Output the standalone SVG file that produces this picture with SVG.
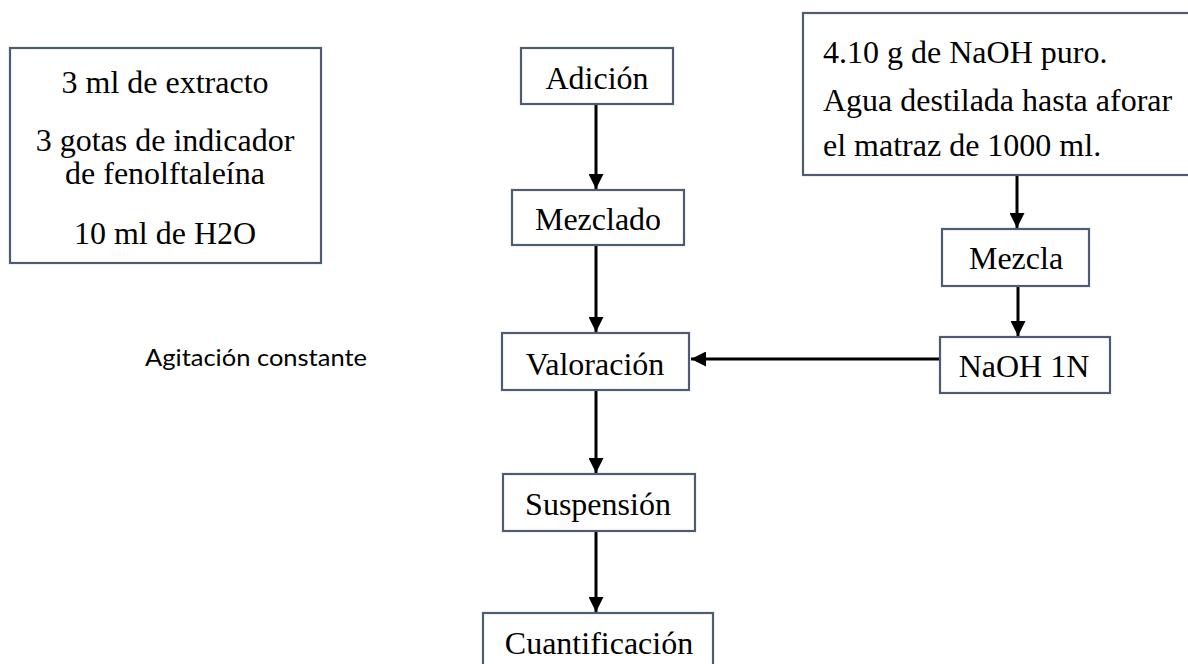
<svg xmlns="http://www.w3.org/2000/svg" width="1188" height="664" viewBox="0 0 1188 664">
<style>
.box{fill:#fff;stroke:#4d5b73;stroke-width:2.2}
.t{font-family:"Liberation Serif","Times New Roman",serif;font-size:32px;fill:#000}
.c{text-anchor:middle}
.edge{stroke:#000;stroke-width:3;fill:none}
</style>
<defs>
<marker id="ah" viewBox="0 0 10 10" refX="10" refY="5" markerWidth="5" markerHeight="5" markerUnits="strokeWidth" orient="auto">
<path d="M0,0 L10,5 L0,10 z" fill="#000"/>
</marker>
</defs>
<rect width="1188" height="664" fill="#fff"/>
<g id="connectors">
<line class="edge" x1="596" y1="104" x2="596" y2="189" marker-end="url(#ah)"/>
<line class="edge" x1="596" y1="245" x2="596" y2="332" marker-end="url(#ah)"/>
<line class="edge" x1="596" y1="391" x2="596" y2="473" marker-end="url(#ah)"/>
<line class="edge" x1="596" y1="532" x2="596" y2="612" marker-end="url(#ah)"/>
<line class="edge" x1="1017" y1="176" x2="1017" y2="228" marker-end="url(#ah)"/>
<line class="edge" x1="1018" y1="287" x2="1018" y2="336" marker-end="url(#ah)"/>
<line class="edge" x1="939" y1="359" x2="691" y2="359" marker-end="url(#ah)"/>
</g>
<g id="ingredients">
<rect class="box" x="10" y="48" width="311" height="215"/>
<text class="t c" x="165" y="93">3 ml de extracto</text>
<text class="t c" x="165" y="151">3 gotas de indicador</text>
<text class="t c" x="165" y="184">de fenolftaleína</text>
<text class="t c" x="165" y="244">10 ml de H2O</text>
</g>
<g id="agitacion">
<text x="145" y="366" font-family="Lato,'Open Sans','Liberation Sans',sans-serif" font-size="24" textLength="222" lengthAdjust="spacingAndGlyphs" fill="#000">Agitación constante</text>
</g>
<g id="adicion">
<rect class="box" x="521" y="48" width="152" height="56"/>
<text class="t c" x="597" y="89">Adición</text>
</g>
<g id="mezclado">
<rect class="box" x="512" y="190" width="172" height="55"/>
<text class="t c" x="598" y="230">Mezclado</text>
</g>
<g id="valoracion">
<rect class="box" x="502" y="333" width="187" height="57"/>
<text class="t c" x="595" y="375">Valoración</text>
</g>
<g id="suspension">
<rect class="box" x="503" y="474" width="192" height="57"/>
<text class="t c" x="598" y="515">Suspensión</text>
</g>
<g id="cuantificacion">
<rect class="box" x="483" y="613" width="230" height="60"/>
<text class="t c" x="599" y="654">Cuantificación</text>
</g>
<g id="naoh-prep">
<rect class="box" x="803" y="13" width="400" height="162"/>
<text class="t" x="823" y="63">4.10 g de NaOH puro.</text>
<text class="t" x="823" y="111">Agua destilada hasta aforar</text>
<text class="t" x="823" y="156">el matraz de 1000 ml.</text>
</g>
<g id="mezcla">
<rect class="box" x="942" y="229" width="147" height="57"/>
<text class="t c" x="1016" y="269">Mezcla</text>
</g>
<g id="naoh1n">
<rect class="box" x="940" y="337" width="170" height="56"/>
<text class="t c" x="1024" y="377">NaOH 1N</text>
</g>
</svg>
